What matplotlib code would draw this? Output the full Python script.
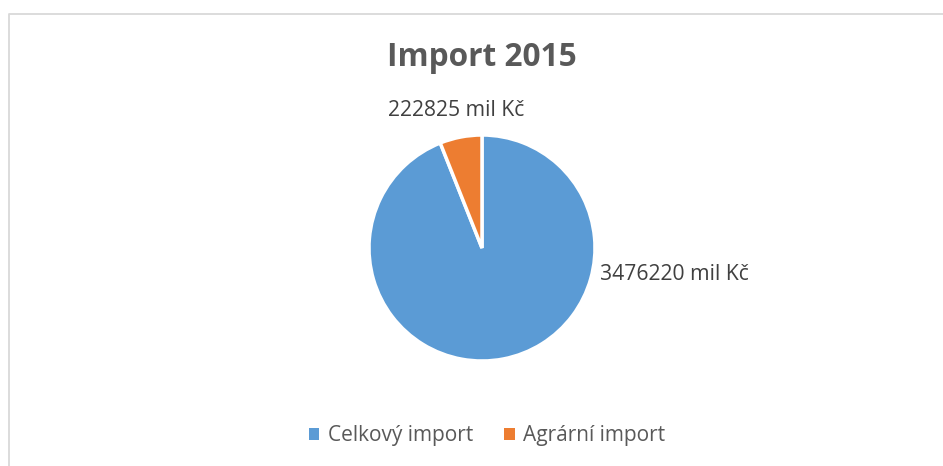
import matplotlib
matplotlib.use('Agg')
import matplotlib.pyplot as plt
from matplotlib.patches import Patch

# Data
categories = ['Celkový import', 'Agrární import']
values = [3476220, 222825]
labels = ['3476220 mil Kč', '222825 mil Kč']
colors = ['#5B9BD5', '#ED7D31']

W, H = 943, 466
plt.rcParams['font.family'] = ['Open Sans', 'DejaVu Sans']

fig = plt.figure(figsize=(W / 100, H / 100), dpi=100)
ax = fig.add_axes([0, 0, 1, 1])
ax.set_xlim(0, W)
ax.set_ylim(0, H)
ax.set_aspect('equal')
ax.axis('off')

# chart border (only top and left visible in the crop)
ax.plot([9, 9, W + 5], [-5, H - 14, H - 14], color='#d9d9d9', lw=1.3)

cx, cy, r = 482, H - 248, 113
ax.pie(values, colors=colors, startangle=90, counterclock=False,
       center=(cx, cy), radius=r,
       wedgeprops=dict(edgecolor='white', linewidth=2.5))
ax.set_xlim(0, W)
ax.set_ylim(0, H)

ax.text(482, H - 58, 'Import 2015', ha='center', va='center',
        fontsize=22.8, fontweight='bold', color='#595959')
ax.text(456, H - 111, labels[1], ha='center', va='center',
        fontsize=15.2, color='#404040')
ax.text(600, H - 275, labels[0], ha='left', va='center',
        fontsize=15.2, color='#404040')

handles = [Patch(facecolor=c, edgecolor='none') for c in colors]
fig.legend(handles, categories, loc='center', bbox_to_anchor=(487 / W, 1 - 436 / H),
           ncol=2, frameon=False, fontsize=15, labelcolor='#595959',
           handlelength=0.5, handleheight=0.5, handletextpad=0.4, columnspacing=1.5)

fig.savefig('out.png', dpi=100)
